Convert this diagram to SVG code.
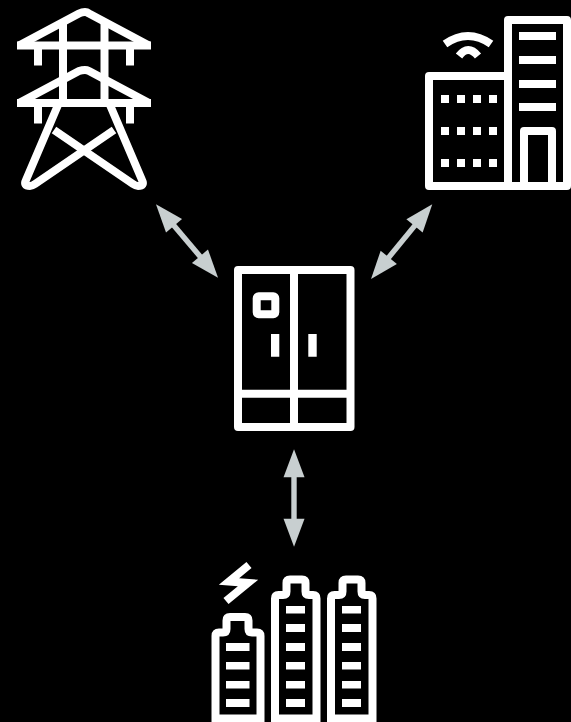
<svg xmlns="http://www.w3.org/2000/svg" width="571" height="722" viewBox="0 0 571 722">
  <style>
    .o{fill:none;stroke:#fff;stroke-width:8;stroke-linejoin:round}
    .m{fill:none;stroke:#fff;stroke-width:8;stroke-linejoin:miter}
    .f{fill:#fff}
    .a{fill:none;stroke:#c8cfd0;stroke-width:5.4;marker-start:url(#h);marker-end:url(#h)}
  </style>
  <defs>
    <marker id="h" markerUnits="userSpaceOnUse" markerWidth="30" markerHeight="22" refX="14" refY="10.5" orient="auto-start-reverse" overflow="visible">
      <path d="M0 0L28 10.5L0 21Z" fill="#c8cfd0"/>
    </marker>
  </defs>
  <rect width="571" height="722" fill="#000"/>
  <g id="tower">
    <path class="o" d="M19 45.5L79 13.5Q82 12 85 12Q87 12 89 13.5L149 45.5"/>
    <path class="o" d="M19 103L79 71Q82 70 85 70Q87 70 89 71L149 103"/>
    <path class="m" stroke-width="8.5" d="M17 45.5H151M17 103H151"/>
    <path class="m" d="M63 22V103M104.500 22V103M38 49V65.500M130 49V65.500M38 106V123.500M130 106V123.500"/>
    <path class="o" d="M58 105L26 180Q23 186 30 186Q32 186 35 184L114 130"/>
    <path class="o" d="M110 105L142 180Q145 186 138 186Q136 186 133 184L54 130"/>
  </g>
  <g id="building">
    <path class="o" d="M508 186V20H567V186H429V76H508"/>
    <path class="o" d="M524 186V131H552V186"/>
    <path class="f" d="M519 32h37v8h-37zM519 56h37v8h-37zM519 80h37v8h-37zM519 103h37v8h-37z"/>
    <path class="f" d="M441 95h8v8h-8zM457 95h8v8h-8zM473 95h8v8h-8zM489 95h8v8h-8zM441 127h8v8h-8zM457 127h8v8h-8zM473 127h8v8h-8zM489 127h8v8h-8zM441 159h8v8h-8zM457 159h8v8h-8zM473 159h8v8h-8zM489 159h8v8h-8z"/>
    <path class="m" d="M445 44Q468 28 491 44M459 56Q468 44 478 56"/>
  </g>
  <g id="storage">
    <path class="o" d="M238 270H350.500V427H238ZM294 270V427M238 393.700H350.500"/>
    <rect class="o" x="256.700" y="296.300" width="18.600" height="18" rx="2"/>
    <path class="f" d="M271 334h8.300v22.700H271zM308.300 334h8.400v22.700h-8.400z"/>
  </g>
  <g id="batteries">
    <path class="o" d="M215.500 726V636Q215.500 632.500 219 632.500H223Q226.500 632.500 226.500 629V620.500Q226.500 617 230 617H245Q248.500 617 248.500 620.500V629Q248.500 632.500 252 632.500H257Q260.500 632.500 260.500 636V726"/>
    <path class="o" d="M215.500 718.500H260.500"/>
    <path class="f" d="M226 643h23.500v8H226zM226 662h23.500v7.500H226zM226 681h23.500v7.500H226zM226 699h23.500v8H226z"/>
    <path class="o" d="M275 726V598.500Q275 595 278.500 595H283Q286.500 595 286.500 591.500V583Q286.500 579.500 290 579.500H302Q305.500 579.500 305.500 583V591.500Q305.500 595 309 595H313Q316.500 595 316.500 598.500V726M275 718.500H316.500"/>
    <path class="f" d="M286 606h19v7.500h-19zM286 624h19v8h-19zM286 643h19v8h-19zM286 662h19v7.500h-19zM286 681h19v7.500h-19zM286 699h19v8h-19z"/>
    <path class="o" d="M331 726V598.500Q331 595 334.500 595H339Q342.500 595 342.500 591.500V583Q342.500 579.500 346 579.500H358Q361.500 579.500 361.500 583V591.500Q361.500 595 365 595H369Q372.500 595 372.500 598.500V726M331 718.500H372.500"/>
    <path class="f" d="M342 606h19v7.500h-19zM342 624h19v8h-19zM342 643h19v8h-19zM342 662h19v7.500h-19zM342 681h19v7.500h-19zM342 699h19v8h-19z"/>
    <path class="m" stroke-width="7.500" d="M249 565L229 581.500L248 583L226 601"/>
  </g>
  <g id="connectors">
    <line class="a" x1="165" y1="215" x2="209" y2="267"/>
    <line class="a" x1="423.400" y1="215.100" x2="379.900" y2="268.200"/>
    <line class="a" x1="294" y1="463.300" x2="294" y2="532.700"/>
  </g>
</svg>
